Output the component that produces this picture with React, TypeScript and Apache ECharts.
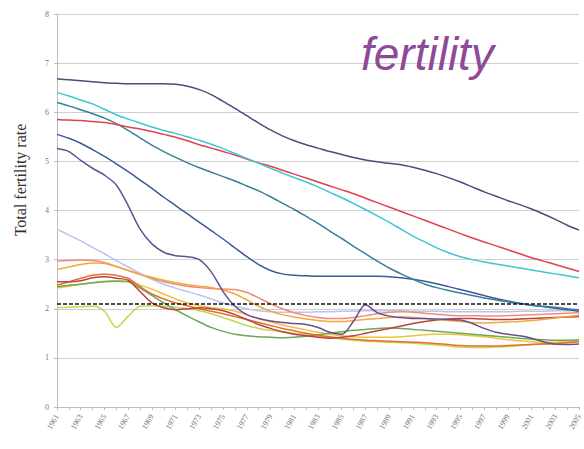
import React, { useEffect, useRef } from "react";
import * as echarts from "echarts";

const years: string[] = [];
for (let y = 1961; y <= 2005; y++) years.push(String(y));

const navy = [6.68, 6.66, 6.64, 6.62, 6.6, 6.59, 6.58, 6.58, 6.58, 6.58, 6.57, 6.53, 6.46, 6.36, 6.22, 6.08, 5.93, 5.78, 5.64, 5.52, 5.42, 5.34, 5.27, 5.2, 5.14, 5.08, 5.03, 4.99, 4.96, 4.93, 4.88, 4.82, 4.75, 4.67, 4.58, 4.48, 4.38, 4.29, 4.2, 4.12, 4.03, 3.93, 3.82, 3.7, 3.6];
const cyan = [6.4, 6.33, 6.25, 6.17, 6.06, 5.95, 5.86, 5.78, 5.7, 5.63, 5.57, 5.5, 5.43, 5.35, 5.26, 5.16, 5.06, 4.96, 4.86, 4.76, 4.67, 4.58, 4.48, 4.37, 4.26, 4.14, 4.02, 3.89, 3.76, 3.62, 3.48, 3.36, 3.24, 3.14, 3.06, 3.0, 2.95, 2.91, 2.87, 2.83, 2.79, 2.75, 2.71, 2.67, 2.63];
const red = [5.85, 5.84, 5.83, 5.81, 5.79, 5.75, 5.7, 5.66, 5.61, 5.55, 5.49, 5.42, 5.34, 5.27, 5.2, 5.13, 5.05, 4.97, 4.9, 4.82, 4.74, 4.66, 4.58, 4.5, 4.42, 4.34, 4.25, 4.16, 4.07, 3.98, 3.89, 3.8, 3.71, 3.62, 3.53, 3.44, 3.36, 3.28, 3.2, 3.12, 3.04, 2.97, 2.9, 2.83, 2.76];
const teal = [6.2, 6.13, 6.05, 5.97, 5.88, 5.77, 5.63, 5.48, 5.33, 5.2, 5.08, 4.97, 4.87, 4.78, 4.69, 4.6, 4.5, 4.4, 4.28, 4.15, 4.02, 3.88, 3.74, 3.58, 3.43, 3.27, 3.12, 2.97, 2.83, 2.71, 2.6, 2.5, 2.43, 2.37, 2.32, 2.27, 2.22, 2.18, 2.14, 2.1, 2.07, 2.05, 2.03, 2.0, 1.98];
const blue = [5.55, 5.47, 5.37, 5.24, 5.1, 4.95, 4.79, 4.62, 4.45, 4.27, 4.1, 3.93, 3.76, 3.59, 3.42, 3.24, 3.06, 2.9, 2.78, 2.71, 2.68, 2.67, 2.66, 2.66, 2.66, 2.66, 2.66, 2.66, 2.65, 2.63, 2.6, 2.56, 2.51, 2.45, 2.39, 2.33, 2.27, 2.21, 2.16, 2.11, 2.07, 2.04, 2.01, 1.98, 1.95];
const purple = [5.26, 5.2, 5.02, 4.86, 4.72, 4.52, 4.1, 3.62, 3.32, 3.15, 3.08, 3.06, 3.0, 2.75, 2.35, 2.05, 1.88, 1.8, 1.75, 1.72, 1.7, 1.68, 1.62, 1.52, 1.48, 1.75, 2.08, 1.92, 1.85, 1.82, 1.8, 1.8, 1.79, 1.78, 1.77, 1.7, 1.6, 1.52, 1.48, 1.45, 1.4, 1.33, 1.28, 1.27, 1.28];
const lavender = [3.62, 3.5, 3.38, 3.25, 3.12, 2.98, 2.85, 2.72, 2.6, 2.5, 2.42, 2.35, 2.28, 2.2, 2.12, 2.05, 2.0, 1.96, 1.94, 1.93, 1.93, 1.93, 1.94, 1.94, 1.95, 1.95, 1.96, 1.96, 1.96, 1.96, 1.95, 1.95, 1.95, 1.94, 1.94, 1.94, 1.94, 1.94, 1.94, 1.95, 1.95, 1.95, 1.96, 1.96, 1.96];
const orange = [2.8, 2.85, 2.9, 2.93, 2.92, 2.86, 2.78, 2.7, 2.64, 2.58, 2.53, 2.49, 2.46, 2.43, 2.38, 2.3, 2.18, 2.05, 1.95, 1.88, 1.83, 1.79, 1.76, 1.74, 1.74, 1.76, 1.78, 1.8, 1.82, 1.83, 1.82, 1.8, 1.78, 1.76, 1.74, 1.72, 1.71, 1.72, 1.73, 1.74, 1.76, 1.78, 1.81, 1.84, 1.87];
const salmon = [2.97, 2.98, 2.99, 2.98, 2.94, 2.86, 2.78, 2.7, 2.62, 2.55, 2.5, 2.46, 2.43, 2.41, 2.4, 2.39, 2.33, 2.22, 2.1, 2.0, 1.92, 1.86, 1.82, 1.8, 1.8, 1.82, 1.86, 1.9, 1.93, 1.94, 1.93, 1.91, 1.89, 1.87, 1.86, 1.86, 1.85, 1.85, 1.86, 1.87, 1.88, 1.89, 1.9, 1.91, 1.92];
const brownRed = [2.55, 2.55, 2.57, 2.63, 2.65, 2.62, 2.58, 2.35, 2.12, 2.02, 1.98, 2.0, 2.02, 2.0, 1.96, 1.88, 1.78, 1.68, 1.6, 1.53, 1.48, 1.45, 1.42, 1.4, 1.42, 1.45, 1.5, 1.55, 1.6, 1.65, 1.7, 1.74, 1.77, 1.79, 1.8, 1.8, 1.79, 1.78, 1.78, 1.79, 1.8, 1.81, 1.82, 1.83, 1.84];
const green = [2.45, 2.48, 2.5, 2.53, 2.55, 2.56, 2.55, 2.42, 2.27, 2.12, 1.98, 1.85, 1.73, 1.62, 1.54, 1.48, 1.45, 1.43, 1.42, 1.41, 1.42, 1.44, 1.47, 1.5, 1.53, 1.56, 1.58, 1.6, 1.61, 1.6, 1.58, 1.56, 1.54, 1.52, 1.5, 1.48, 1.46, 1.44, 1.42, 1.4, 1.38, 1.37, 1.36, 1.36, 1.37];
const lime = [2.02, 2.03, 2.04, 2.05, 1.95, 1.62, 1.85, 2.05, 2.06, 2.05, 2.03, 2.0, 1.96, 1.9, 1.82, 1.74, 1.66, 1.6, 1.56, 1.53, 1.5, 1.47, 1.44, 1.41, 1.38, 1.36, 1.34, 1.33, 1.32, 1.31, 1.3, 1.28, 1.26, 1.24, 1.22, 1.21, 1.21, 1.22, 1.23, 1.25, 1.27, 1.29, 1.31, 1.33, 1.35];
const orangeRed = [2.48, 2.55, 2.62, 2.68, 2.7, 2.68, 2.62, 2.45, 2.3, 2.2, 2.12, 2.06, 2.0, 1.95, 1.9, 1.84, 1.78, 1.72, 1.66, 1.6, 1.55, 1.5, 1.46, 1.43, 1.4, 1.38, 1.36, 1.35, 1.34, 1.33, 1.32, 1.31, 1.29, 1.27, 1.25, 1.24, 1.24, 1.24, 1.25, 1.26, 1.27, 1.28, 1.29, 1.31, 1.33];
const yellow = [2.42, 2.46, 2.5, 2.53, 2.56, 2.57, 2.56, 2.48, 2.4, 2.3, 2.2, 2.12, 2.06, 2.02, 2.0, 1.95, 1.88, 1.8, 1.73, 1.67, 1.62, 1.57, 1.52, 1.48, 1.45, 1.43, 1.42, 1.42, 1.42, 1.43, 1.45, 1.47, 1.48, 1.48, 1.47, 1.45, 1.43, 1.4, 1.37, 1.35, 1.33, 1.32, 1.32, 1.33, 1.34];
const replacement = 2.1;

const seriesDefs: [number[], string][] = [
  [lavender, "#b9c4ec"],
  [lime, "#c6d64c"],
  [yellow, "#e9c53c"],
  [green, "#6aaa5a"],
  [orangeRed, "#ec6a34"],
  [brownRed, "#b8443e"],
  [salmon, "#f28a76"],
  [orange, "#f4a640"],
  [purple, "#6a4e92"],
  [blue, "#3a5a9a"],
  [teal, "#3a7f98"],
  [red, "#e2404e"],
  [cyan, "#3ec6d6"],
  [navy, "#4a4c7c"],
];

export default function App() {
  const ref = useRef<HTMLDivElement>(null);
  useEffect(() => {
    if (!ref.current) return;
    const chart = echarts.init(ref.current, null, { renderer: "svg" });
    const series: any[] = seriesDefs.map(([d, c]) => ({
      type: "line",
      data: d,
      showSymbol: false,
      symbol: "none",
      smooth: 0.3,
      lineStyle: { width: 1.5, color: c },
      itemStyle: { color: c },
    }));
    series[0].markLine = {
      silent: true,
      symbol: "none",
      label: { show: false },
      lineStyle: { type: [4, 2], color: "#111", width: 1.5 },
      data: [{ yAxis: replacement }],
      z: 10,
    };
    chart.setOption({
      animation: false,
      backgroundColor: "#ffffff",
      title: {
        text: "fertility",
        left: 356,
        top: 26,
        textStyle: {
          fontFamily: "Liberation Sans, Arial, sans-serif",
          fontSize: 46,
          fontStyle: "italic",
          fontWeight: "normal",
          color: "#8e4a98",
        },
      },
      graphic: [
        {
          type: "text",
          x: 20,
          y: 180,
          rotation: Math.PI / 2,
          style: {
            text: "Total fertility rate",
            fontFamily: "Liberation Serif, serif",
            fontSize: 16,
            fill: "#333",
            textAlign: "center",
            textVerticalAlign: "middle",
          },
        },
      ],
      grid: { left: 57, right: 0, top: 14, bottom: 42 },
      xAxis: {
        type: "category",
        data: years,
        boundaryGap: false,
        axisLine: { lineStyle: { color: "#bdbdbd" } },
        axisTick: { show: true, interval: 0, length: 3, lineStyle: { color: "#bdbdbd" } },
        axisLabel: {
          interval: 1,
          rotate: 60,
          fontSize: 8,
          color: "#777",
          fontFamily: "Liberation Serif, serif",
          margin: 8,
        },
        splitLine: { show: false },
      },
      yAxis: {
        type: "value",
        min: 0,
        max: 8,
        interval: 1,
        axisLine: { show: true, lineStyle: { color: "#bdbdbd" } },
        axisTick: { show: true, length: 3, lineStyle: { color: "#bdbdbd" } },
        axisLabel: { fontSize: 8, color: "#777", fontFamily: "Liberation Serif, serif", margin: 8 },
        splitLine: { lineStyle: { color: "#cfcfcf", width: 1.2 } },
      },
      series,
    });
    return () => chart.dispose();
  }, []);
  return <div ref={ref} style={{ width: 584, height: 449, position: "fixed", left: 0, top: 0 }} />;
}
